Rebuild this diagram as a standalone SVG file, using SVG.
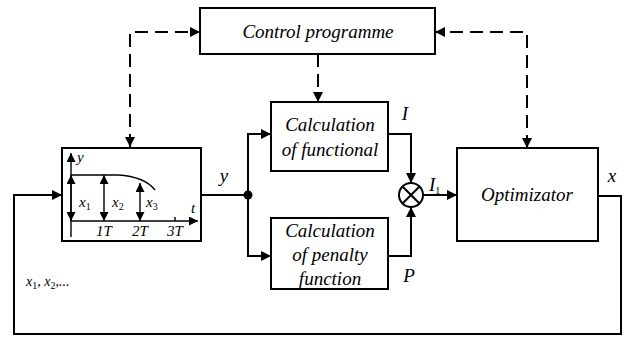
<svg xmlns="http://www.w3.org/2000/svg" width="626" height="338" viewBox="0 0 626 338">
<style>
.box{fill:#fff;stroke:#000;stroke-width:2}
.ln{fill:none;stroke:#000;stroke-width:2}
.ds{fill:none;stroke:#000;stroke-width:2;stroke-dasharray:13,7}
.th{fill:none;stroke:#000;stroke-width:1.4}
text{font-family:'Liberation Serif','DejaVu Serif','Times New Roman',serif;font-style:italic;fill:#000}
.t{font-size:19px;text-anchor:middle}
.s{font-size:15px}
.sub{font-size:10px;font-style:normal}
</style>
<defs>
<marker id="a" viewBox="0 0 10 10" refX="10" refY="5" markerWidth="10" markerHeight="10" markerUnits="userSpaceOnUse" orient="auto-start-reverse"><path d="M0,0L10,5L0,10z" fill="#000"/></marker>
<marker id="b" viewBox="0 0 10 10" refX="10" refY="5" markerWidth="10" markerHeight="9" markerUnits="userSpaceOnUse" orient="auto-start-reverse"><path d="M0,0L10,5L0,10z" fill="#000"/></marker>
</defs>
<g id="connectors">
<path class="ds" d="M130,147V32H200" marker-start="url(#a)" marker-end="url(#a)"/>
<path class="ds" d="M527,148V32H435" marker-start="url(#a)" marker-end="url(#a)"/>
<path class="ds" d="M318,54V102" marker-end="url(#a)"/>
<path class="ln" d="M201,195H248"/>
<circle cx="248" cy="195" r="4.5" fill="#000"/>
<path class="ln" d="M248,195V134H271" marker-end="url(#a)"/>
<path class="ln" d="M248,195V256H271" marker-end="url(#a)"/>
<path class="ln" d="M388,134H411V183" marker-end="url(#a)"/>
<path class="ln" d="M388,256H411V207" marker-end="url(#a)"/>
<path class="ln" d="M423,195H457" marker-end="url(#a)"/>
<path class="ln" d="M598,196H621V334H14V195H62" marker-end="url(#a)"/>
<text x="224" y="182" class="t">y</text>
<text x="405" y="120" class="t">I</text>
<text x="409" y="282" class="t">P</text>
<text x="429" y="191" font-size="19">I<tspan class="sub" dy="3">1</tspan></text>
<text x="612" y="182" class="t">x</text>
<text x="26" y="286" font-size="14">x<tspan class="sub" dy="3">1</tspan><tspan dy="-3">, x</tspan><tspan class="sub" dy="3">2</tspan><tspan dy="-3">,...</tspan></text>
</g>
<g id="control">
<rect class="box" x="200" y="8" width="235" height="46"/>
<text x="318" y="38" class="t">Control programme</text>
</g>
<g id="plant">
<rect class="box" x="62" y="148" width="139" height="93"/>
<path class="th" d="M71,237V153" marker-end="url(#b)"/>
<path class="th" d="M71,221H198" marker-end="url(#b)"/>
<path class="th" d="M71,175H118C135,176 148,181 155,190"/>
<path class="th" d="M71,221V175" marker-start="url(#b)" marker-end="url(#b)"/>
<path class="th" d="M104,221V175" marker-start="url(#b)" marker-end="url(#b)"/>
<path class="th" d="M140,221V183" marker-start="url(#b)" marker-end="url(#b)"/>
<path class="th" d="M175,217V221"/>
<text x="77" y="162" class="s">y</text>
<text x="79" y="207" class="s">x<tspan class="sub" dy="3">1</tspan></text>
<text x="112" y="207" class="s">x<tspan class="sub" dy="3">2</tspan></text>
<text x="146" y="207" class="s">x<tspan class="sub" dy="3">3</tspan></text>
<text x="191" y="213" class="s">t</text>
<text x="104" y="236" class="s" text-anchor="middle">1T</text>
<text x="140" y="236" class="s" text-anchor="middle">2T</text>
<text x="175" y="236" class="s" text-anchor="middle">3T</text>
</g>
<g id="functional">
<rect class="box" x="271" y="102" width="117" height="69"/>
<text x="330" y="131" class="t">Calculation</text>
<text x="330" y="156" class="t">of functional</text>
</g>
<g id="penalty">
<rect class="box" x="271" y="218" width="117" height="71"/>
<text x="330" y="237" class="t">Calculation</text>
<text x="330" y="261" class="t">of penalty</text>
<text x="330" y="285" class="t">function</text>
</g>
<g id="multiplier">
<circle cx="411" cy="195" r="12" class="box"/>
<path class="ln" d="M402.5,186.5L419.5,203.5M419.5,186.5L402.5,203.5"/>
</g>
<g id="optimizator">
<rect class="box" x="457" y="148" width="141" height="93"/>
<text x="527" y="201" class="t">Optimizator</text>
</g>
</svg>
